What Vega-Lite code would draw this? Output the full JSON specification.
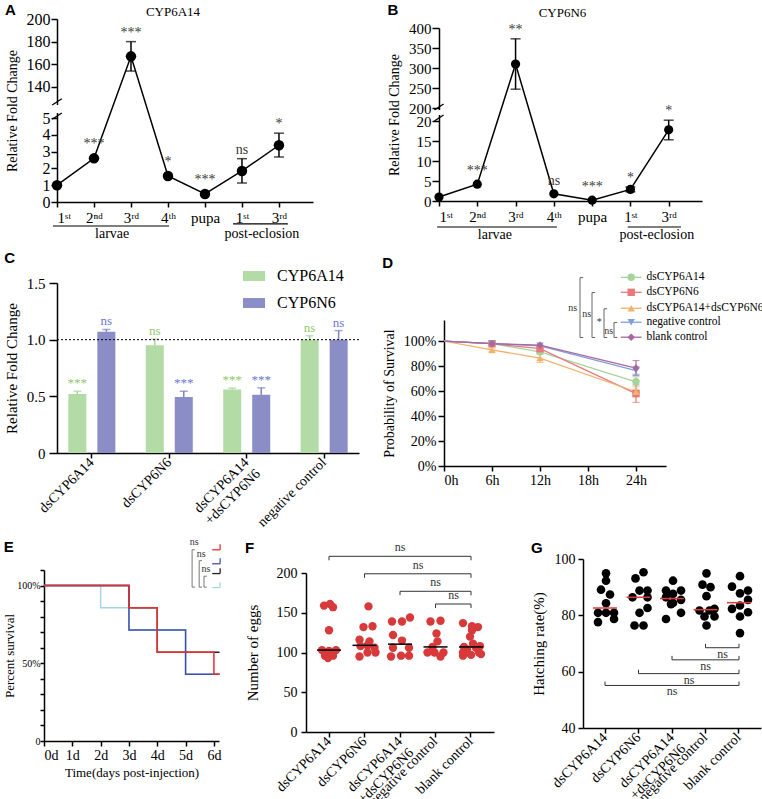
{
"$schema": "https://vega.github.io/schema/vega-lite/v6.json",
"background": "white",
"padding": {"left": 3, "top": 3, "right": 0, "bottom": 0},
"columns": 1,
"align": "none",
"spacing": 8,
"resolve": {"scale": {"color": "independent", "shape": "independent"}, "legend": {"color": "independent", "shape": "independent"}},
"config": {
 "view": {"stroke": null},
 "font": "Liberation Serif, Times New Roman, serif",
 "axis": {"grid": false, "labelOverlap": false, "domainColor": "black", "domainWidth": 1.5, "tickColor": "black", "tickWidth": 1.5, "tickSize": 5, "labelColor": "black", "titleColor": "black", "labelFont": "Liberation Serif, Times New Roman, serif", "titleFont": "Liberation Serif, Times New Roman, serif", "labelFontSize": 14, "titleFontSize": 14, "titleFontWeight": "normal", "labelPadding": 2, "titlePadding": 6},
 "legend": {"labelFont": "Liberation Serif, Times New Roman, serif", "labelColor": "black"},
 "title": {"font": "Liberation Sans, Arial, sans-serif", "fontWeight": "bold", "fontSize": 15, "color": "black", "anchor": "start", "offset": 0},
 "text": {"font": "Liberation Serif, Times New Roman, serif"}
},
"datasets": {
 "devA": [
  {"stage": "larva 1st", "i": 0, "v": 1.0, "sig": ""},
  {"stage": "larva 2nd", "i": 1, "v": 2.6, "sig": "***"},
  {"stage": "larva 3rd", "i": 2, "v": 167, "lo": 154, "hi": 180, "sig": "***"},
  {"stage": "larva 4th", "i": 3, "v": 1.55, "sig": "*"},
  {"stage": "pupa", "i": 4, "v": 0.48, "sig": "***"},
  {"stage": "adult 1st", "i": 5, "v": 1.85, "lo": 1.13, "hi": 2.58, "sig": "ns"},
  {"stage": "adult 3rd", "i": 6, "v": 3.38, "lo": 2.68, "hi": 4.1, "sig": "*"}
 ],
 "devB": [
  {"stage": "larva 1st", "i": 0, "v": 1.0, "sig": ""},
  {"stage": "larva 2nd", "i": 1, "v": 4.2, "sig": "***"},
  {"stage": "larva 3rd", "i": 2, "v": 310, "lo": 247, "hi": 373, "sig": "**"},
  {"stage": "larva 4th", "i": 3, "v": 1.8, "sig": "ns"},
  {"stage": "pupa", "i": 4, "v": 0.2, "sig": "***"},
  {"stage": "adult 1st", "i": 5, "v": 2.9, "lo": 2.3, "hi": 3.5, "sig": "*"},
  {"stage": "adult 3rd", "i": 6, "v": 17.8, "lo": 15.3, "hi": 20.2, "sig": "*"}
 ],
 "knock": [
  {"group": "dsCYP6A14", "gene": "CYP6A14", "value": 0.52, "upper": 0.545, "sig": "***"},
  {"group": "dsCYP6A14", "gene": "CYP6N6", "value": 1.07, "upper": 1.09, "sig": "ns"},
  {"group": "dsCYP6N6", "gene": "CYP6A14", "value": 0.95, "upper": 1.005, "sig": "ns"},
  {"group": "dsCYP6N6", "gene": "CYP6N6", "value": 0.495, "upper": 0.545, "sig": "***"},
  {"group": "dsCYP6A14+dsCYP6N6", "gene": "CYP6A14", "value": 0.56, "upper": 0.572, "sig": "***"},
  {"group": "dsCYP6A14+dsCYP6N6", "gene": "CYP6N6", "value": 0.515, "upper": 0.575, "sig": "***"},
  {"group": "negative control", "gene": "CYP6A14", "value": 1.0, "upper": 1.035, "sig": "ns"},
  {"group": "negative control", "gene": "CYP6N6", "value": 1.0, "upper": 1.08, "sig": "ns"}
 ],
 "surv": [
  {"g": "dsCYP6A14", "t": 0, "p": 1},
  {"g": "dsCYP6A14", "t": 6, "p": 0.98},
  {"g": "dsCYP6A14", "t": 12, "p": 0.915, "lo": 0.895, "hi": 0.935},
  {"g": "dsCYP6A14", "t": 24, "p": 0.675, "lo": 0.635, "hi": 0.715},
  {"g": "dsCYP6N6", "t": 0, "p": 1},
  {"g": "dsCYP6N6", "t": 6, "p": 0.98},
  {"g": "dsCYP6N6", "t": 12, "p": 0.94, "lo": 0.925, "hi": 0.955},
  {"g": "dsCYP6N6", "t": 24, "p": 0.58, "lo": 0.51, "hi": 0.65},
  {"g": "dsCYP6A14+dsCYP6N6", "t": 0, "p": 1},
  {"g": "dsCYP6A14+dsCYP6N6", "t": 6, "p": 0.93, "lo": 0.915, "hi": 0.945},
  {"g": "dsCYP6A14+dsCYP6N6", "t": 12, "p": 0.865, "lo": 0.83, "hi": 0.9},
  {"g": "dsCYP6A14+dsCYP6N6", "t": 24, "p": 0.595, "lo": 0.575, "hi": 0.615},
  {"g": "negative control", "t": 0, "p": 1},
  {"g": "negative control", "t": 6, "p": 0.98},
  {"g": "negative control", "t": 12, "p": 0.963},
  {"g": "negative control", "t": 24, "p": 0.765, "lo": 0.735, "hi": 0.795},
  {"g": "blank control", "t": 0, "p": 1},
  {"g": "blank control", "t": 6, "p": 0.98},
  {"g": "blank control", "t": 12, "p": 0.968},
  {"g": "blank control", "t": 24, "p": 0.785, "lo": 0.725, "hi": 0.845}
 ],
 "km": [
  {"g": "negative control", "d": 0, "s": 1},
  {"g": "negative control", "d": 2, "s": 0.857},
  {"g": "negative control", "d": 3, "s": 0.714},
  {"g": "negative control", "d": 5, "s": 0.429},
  {"g": "negative control", "d": 6.2, "s": 0.429},
  {"g": "dsCYP6A14+dsCYP6N6", "d": 0, "s": 1},
  {"g": "dsCYP6A14+dsCYP6N6", "d": 3, "s": 0.857},
  {"g": "dsCYP6A14+dsCYP6N6", "d": 4, "s": 0.571},
  {"g": "dsCYP6A14+dsCYP6N6", "d": 6.2, "s": 0.571},
  {"g": "dsCYP6N6", "d": 0, "s": 1},
  {"g": "dsCYP6N6", "d": 3, "s": 0.714},
  {"g": "dsCYP6N6", "d": 5, "s": 0.429},
  {"g": "dsCYP6N6", "d": 6.2, "s": 0.429},
  {"g": "dsCYP6A14", "d": 0, "s": 1},
  {"g": "dsCYP6A14", "d": 3, "s": 0.857},
  {"g": "dsCYP6A14", "d": 4, "s": 0.571},
  {"g": "dsCYP6A14", "d": 6, "s": 0.429},
  {"g": "dsCYP6A14", "d": 6.2, "s": 0.429}
 ],
 "eggs": [
  {"group": "dsCYP6A14", "value": 159, "jit": -5}, {"group": "dsCYP6A14", "value": 161, "jit": 1}, {"group": "dsCYP6A14", "value": 157, "jit": 4},
  {"group": "dsCYP6A14", "value": 128, "jit": 0}, {"group": "dsCYP6A14", "value": 103, "jit": -7}, {"group": "dsCYP6A14", "value": 102, "jit": 0},
  {"group": "dsCYP6A14", "value": 103, "jit": 7}, {"group": "dsCYP6A14", "value": 96, "jit": -4}, {"group": "dsCYP6A14", "value": 96, "jit": 4},
  {"group": "dsCYP6A14", "value": 93, "jit": -1},
  {"group": "dsCYP6N6", "value": 158, "jit": 4}, {"group": "dsCYP6N6", "value": 132, "jit": -1}, {"group": "dsCYP6N6", "value": 133, "jit": 8},
  {"group": "dsCYP6N6", "value": 116, "jit": -5}, {"group": "dsCYP6N6", "value": 114, "jit": 5}, {"group": "dsCYP6N6", "value": 108, "jit": -4},
  {"group": "dsCYP6N6", "value": 109, "jit": 3}, {"group": "dsCYP6N6", "value": 106, "jit": 10}, {"group": "dsCYP6N6", "value": 95, "jit": -5},
  {"group": "dsCYP6N6", "value": 100, "jit": 3}, {"group": "dsCYP6N6", "value": 100, "jit": 11},
  {"group": "dsCYP6A14+dsCYP6N6", "value": 139, "jit": -8}, {"group": "dsCYP6A14+dsCYP6N6", "value": 139, "jit": 2}, {"group": "dsCYP6A14+dsCYP6N6", "value": 144, "jit": 10},
  {"group": "dsCYP6A14+dsCYP6N6", "value": 122, "jit": -7}, {"group": "dsCYP6A14+dsCYP6N6", "value": 115, "jit": 2}, {"group": "dsCYP6A14+dsCYP6N6", "value": 106, "jit": -7},
  {"group": "dsCYP6A14+dsCYP6N6", "value": 106, "jit": 9}, {"group": "dsCYP6A14+dsCYP6N6", "value": 95, "jit": -9}, {"group": "dsCYP6A14+dsCYP6N6", "value": 96, "jit": 1},
  {"group": "dsCYP6A14+dsCYP6N6", "value": 96, "jit": 9},
  {"group": "negative control", "value": 139, "jit": -5}, {"group": "negative control", "value": 140, "jit": 5}, {"group": "negative control", "value": 124, "jit": 1},
  {"group": "negative control", "value": 114, "jit": 2}, {"group": "negative control", "value": 107, "jit": -3}, {"group": "negative control", "value": 100, "jit": -8},
  {"group": "negative control", "value": 100, "jit": -1}, {"group": "negative control", "value": 100, "jit": 8}, {"group": "negative control", "value": 95, "jit": 5},
  {"group": "blank control", "value": 137, "jit": -8}, {"group": "blank control", "value": 133, "jit": 1}, {"group": "blank control", "value": 132, "jit": 7},
  {"group": "blank control", "value": 128, "jit": 1}, {"group": "blank control", "value": 120, "jit": -1}, {"group": "blank control", "value": 111, "jit": 2},
  {"group": "blank control", "value": 108, "jit": 9}, {"group": "blank control", "value": 107, "jit": -7}, {"group": "blank control", "value": 106, "jit": 5},
  {"group": "blank control", "value": 104, "jit": -4}, {"group": "blank control", "value": 100, "jit": -8}, {"group": "blank control", "value": 100, "jit": 8},
  {"group": "blank control", "value": 96, "jit": -8}, {"group": "blank control", "value": 97, "jit": 0}, {"group": "blank control", "value": 98, "jit": 10}
 ],
 "hatch": [
  {"group": "dsCYP6A14", "value": 94.9, "jit": 0}, {"group": "dsCYP6A14", "value": 92.3, "jit": 0}, {"group": "dsCYP6A14", "value": 89.1, "jit": -5},
  {"group": "dsCYP6A14", "value": 87.4, "jit": 4}, {"group": "dsCYP6A14", "value": 84.3, "jit": 0}, {"group": "dsCYP6A14", "value": 80.9, "jit": -8},
  {"group": "dsCYP6A14", "value": 80.9, "jit": 8}, {"group": "dsCYP6A14", "value": 80.9, "jit": 0}, {"group": "dsCYP6A14", "value": 77.6, "jit": -8},
  {"group": "dsCYP6A14", "value": 78.7, "jit": 8},
  {"group": "dsCYP6N6", "value": 95.3, "jit": 4}, {"group": "dsCYP6N6", "value": 93.1, "jit": -4}, {"group": "dsCYP6N6", "value": 88.8, "jit": 0},
  {"group": "dsCYP6N6", "value": 88.8, "jit": 8}, {"group": "dsCYP6N6", "value": 86.4, "jit": -7}, {"group": "dsCYP6N6", "value": 86.4, "jit": 8},
  {"group": "dsCYP6N6", "value": 82.6, "jit": 8}, {"group": "dsCYP6N6", "value": 80.9, "jit": 0}, {"group": "dsCYP6N6", "value": 76.4, "jit": -5},
  {"group": "dsCYP6N6", "value": 76.4, "jit": 4},
  {"group": "dsCYP6A14+dsCYP6N6", "value": 92.3, "jit": 0}, {"group": "dsCYP6A14+dsCYP6N6", "value": 88.8, "jit": -7}, {"group": "dsCYP6A14+dsCYP6N6", "value": 88.8, "jit": 8},
  {"group": "dsCYP6A14+dsCYP6N6", "value": 87.6, "jit": 0}, {"group": "dsCYP6A14+dsCYP6N6", "value": 86.4, "jit": -7}, {"group": "dsCYP6A14+dsCYP6N6", "value": 85.5, "jit": 8},
  {"group": "dsCYP6A14+dsCYP6N6", "value": 84.4, "jit": 0}, {"group": "dsCYP6A14+dsCYP6N6", "value": 84.0, "jit": -2}, {"group": "dsCYP6A14+dsCYP6N6", "value": 80.9, "jit": 8},
  {"group": "dsCYP6A14+dsCYP6N6", "value": 78.7, "jit": -7},
  {"group": "negative control", "value": 94.9, "jit": 0}, {"group": "negative control", "value": 90.9, "jit": -4}, {"group": "negative control", "value": 90.0, "jit": 4},
  {"group": "negative control", "value": 86.8, "jit": 0}, {"group": "negative control", "value": 81.7, "jit": -7}, {"group": "negative control", "value": 82.3, "jit": 8},
  {"group": "negative control", "value": 81.7, "jit": 3}, {"group": "negative control", "value": 79.6, "jit": -2}, {"group": "negative control", "value": 79.6, "jit": 8},
  {"group": "negative control", "value": 76.4, "jit": 0},
  {"group": "blank control", "value": 93.9, "jit": 0}, {"group": "blank control", "value": 90.2, "jit": -8}, {"group": "blank control", "value": 88.8, "jit": 8},
  {"group": "blank control", "value": 87.8, "jit": 0}, {"group": "blank control", "value": 85.5, "jit": 8}, {"group": "blank control", "value": 83.5, "jit": 0},
  {"group": "blank control", "value": 82.3, "jit": -8}, {"group": "blank control", "value": 81.1, "jit": 8}, {"group": "blank control", "value": 79.6, "jit": 0},
  {"group": "blank control", "value": 73.7, "jit": 0}
 ]
},
"concat": [
 {"columns": 2, "align": "none", "spacing": 74, "resolve": {"scale": {"color": "independent", "shape": "independent"}, "legend": {"color": "independent", "shape": "independent"}}, "concat": [
  {"title": {"text": "A", "offset": -14, "dy": -2},
   "vconcat": [{
    "width": 256, "height": 183,
    "title": {"text": "CYP6A14", "font": "Liberation Serif, Times New Roman, serif", "fontWeight": "normal", "fontSize": 13, "anchor": "middle", "dx": -12, "offset": -8},
    "layer": [
     {"data": {"values": [{}]}, "mark": {"type": "rect", "color": "white", "clip": false}, "encoding": {"x": {"datum": -0.1, "type": "quantitative"}, "x2": {"datum": 0.1}, "y": {"datum": 5.3, "type": "quantitative"}, "y2": {"datum": 124}}},
     {"data": {"values": [{}]}, "mark": {"type": "rule", "color": "black", "strokeWidth": 1.3, "clip": false}, "encoding": {"x": {"datum": -0.13, "type": "quantitative"}, "x2": {"datum": 0.13}, "y": {"datum": 4.93, "type": "quantitative"}, "y2": {"datum": 5.3}}},
     {"data": {"values": [{}]}, "mark": {"type": "rule", "color": "black", "strokeWidth": 1.3, "clip": false}, "encoding": {"x": {"datum": -0.13, "type": "quantitative"}, "x2": {"datum": 0.13}, "y": {"datum": 124, "type": "quantitative"}, "y2": {"datum": 129.5}}},
     {"data": {"name": "devA"}, "mark": {"type": "line", "color": "black", "strokeWidth": 1.5},
      "encoding": {
       "x": {"field": "i", "type": "quantitative", "scale": {"domain": [0, 6.92], "nice": false, "zero": false}, "axis": {"values": [0, 1, 2, 3, 4, 5, 6], "tickCount": 30, "labelOverlap": false, "labelExpr": "['1ˢᵗ','2ⁿᵈ','3ʳᵈ','4ᵗʰ','pupa','1ˢᵗ','3ʳᵈ'][datum.value]", "title": null, "labelFontSize": 15, "labelPadding": 3}},
       "y": {"field": "v", "type": "quantitative", "scale": {"domain": [0, 5.3, 124, 200], "range": [183, 94, 86, 0], "nice": false, "zero": false}, "axis": {"values": [0, 1, 2, 3, 4, 5, 140, 160, 180, 200], "tickCount": 30, "labelOverlap": false, "title": "Relative Fold Change", "labelFontSize": 16, "tickSize": 6, "labelPadding": 1, "titlePadding": 7}}
      }},
     {"data": {"name": "devA"}, "transform": [{"filter": "isValid(datum.hi)"}], "mark": {"type": "rule", "color": "black", "strokeWidth": 1.5}, "encoding": {"x": {"field": "i", "type": "quantitative"}, "y": {"field": "lo", "type": "quantitative"}, "y2": {"field": "hi"}}},
     {"data": {"name": "devA"}, "transform": [{"filter": "isValid(datum.hi)"}], "mark": {"type": "tick", "orient": "horizontal", "color": "black", "size": 10, "thickness": 1.5}, "encoding": {"x": {"field": "i", "type": "quantitative"}, "y": {"field": "hi", "type": "quantitative"}}},
     {"data": {"name": "devA"}, "transform": [{"filter": "isValid(datum.hi)"}], "mark": {"type": "tick", "orient": "horizontal", "color": "black", "size": 10, "thickness": 1.5}, "encoding": {"x": {"field": "i", "type": "quantitative"}, "y": {"field": "lo", "type": "quantitative"}}},
     {"data": {"name": "devA"}, "mark": {"type": "point", "shape": "circle", "filled": true, "color": "black", "size": 110, "opacity": 1}, "encoding": {"x": {"field": "i", "type": "quantitative"}, "y": {"field": "v", "type": "quantitative"}}},
     {"data": {"name": "devA"}, "transform": [{"filter": "isValid(datum.hi)"}], "mark": {"type": "text", "baseline": "bottom", "dy": -2, "fontSize": 14, "color": "#3a3a3a"}, "encoding": {"x": {"field": "i", "type": "quantitative"}, "y": {"field": "hi", "type": "quantitative"}, "text": {"field": "sig"}}},
     {"data": {"name": "devA"}, "transform": [{"filter": "!isValid(datum.hi) && datum.sig != ''"}], "mark": {"type": "text", "baseline": "bottom", "dy": -7, "fontSize": 14, "color": "#3a3a3a"}, "encoding": {"x": {"field": "i", "type": "quantitative"}, "y": {"field": "v", "type": "quantitative"}, "text": {"field": "sig"}}},
     {"data": {"values": [{}]}, "mark": {"type": "rule", "color": "black", "strokeWidth": 1.2, "clip": false}, "encoding": {"x": {"datum": -0.11, "type": "quantitative"}, "x2": {"datum": 3.03}, "y": {"datum": -1.43, "type": "quantitative"}}},
     {"data": {"values": [{}]}, "mark": {"type": "rule", "color": "black", "strokeWidth": 1.2, "clip": false}, "encoding": {"x": {"datum": 4.76, "type": "quantitative"}, "x2": {"datum": 6.24}, "y": {"datum": -1.3, "type": "quantitative"}}},
     {"data": {"values": [{}]}, "mark": {"type": "text", "text": "larvae", "fontSize": 14, "baseline": "middle", "clip": false}, "encoding": {"x": {"datum": 1.49, "type": "quantitative"}, "y": {"datum": -1.9, "type": "quantitative"}}},
     {"data": {"values": [{}]}, "mark": {"type": "text", "text": "post-eclosion", "fontSize": 14, "baseline": "middle", "clip": false}, "encoding": {"x": {"datum": 5.54, "type": "quantitative"}, "y": {"datum": -1.9, "type": "quantitative"}}}
    ]
   }]
  },
  {"title": {"text": "B", "offset": -15, "dy": -4},
   "vconcat": [{
    "width": 263, "height": 182,
    "title": {"text": "CYP6N6", "font": "Liberation Serif, Times New Roman, serif", "fontWeight": "normal", "fontSize": 13, "anchor": "middle", "dx": -8, "offset": -1},
    "layer": [
     {"data": {"values": [{}]}, "mark": {"type": "rect", "color": "white", "clip": false}, "encoding": {"x": {"datum": -0.1, "type": "quantitative"}, "x2": {"datum": 0.1}, "y": {"datum": 21.5, "type": "quantitative"}, "y2": {"datum": 195}}},
     {"data": {"values": [{}]}, "mark": {"type": "rule", "color": "black", "strokeWidth": 1.3, "clip": false}, "encoding": {"x": {"datum": -0.12, "type": "quantitative"}, "x2": {"datum": 0.12}, "y": {"datum": 20, "type": "quantitative"}, "y2": {"datum": 21.5}}},
     {"data": {"values": [{}]}, "mark": {"type": "rule", "color": "black", "strokeWidth": 1.3, "clip": false}, "encoding": {"x": {"datum": -0.12, "type": "quantitative"}, "x2": {"datum": 0.12}, "y": {"datum": 195, "type": "quantitative"}, "y2": {"datum": 210}}},
     {"data": {"name": "devB"}, "mark": {"type": "line", "color": "black", "strokeWidth": 1.5},
      "encoding": {
       "x": {"field": "i", "type": "quantitative", "scale": {"domain": [0, 6.87], "nice": false, "zero": false}, "axis": {"values": [0, 1, 2, 3, 4, 5, 6], "tickCount": 30, "labelOverlap": false, "labelExpr": "['1ˢᵗ','2ⁿᵈ','3ʳᵈ','4ᵗʰ','pupa','1ˢᵗ','3ʳᵈ'][datum.value]", "title": null, "labelFontSize": 15, "labelPadding": 3}},
       "y": {"field": "v", "type": "quantitative", "scale": {"domain": [0, 21.5, 195, 400], "range": [182, 96, 91, 9], "nice": false, "zero": false}, "axis": {"values": [0, 5, 10, 15, 20, 200, 250, 300, 350, 400], "tickCount": 30, "labelOverlap": false, "title": "Relative Fold Change", "labelFontSize": 15, "tickSize": 7, "labelPadding": 1, "titlePadding": 7}}
      }},
     {"data": {"name": "devB"}, "transform": [{"filter": "isValid(datum.hi)"}], "mark": {"type": "rule", "color": "black", "strokeWidth": 1.5}, "encoding": {"x": {"field": "i", "type": "quantitative"}, "y": {"field": "lo", "type": "quantitative"}, "y2": {"field": "hi"}}},
     {"data": {"name": "devB"}, "transform": [{"filter": "isValid(datum.hi)"}], "mark": {"type": "tick", "orient": "horizontal", "color": "black", "size": 10, "thickness": 1.5}, "encoding": {"x": {"field": "i", "type": "quantitative"}, "y": {"field": "hi", "type": "quantitative"}}},
     {"data": {"name": "devB"}, "transform": [{"filter": "isValid(datum.hi)"}], "mark": {"type": "tick", "orient": "horizontal", "color": "black", "size": 10, "thickness": 1.5}, "encoding": {"x": {"field": "i", "type": "quantitative"}, "y": {"field": "lo", "type": "quantitative"}}},
     {"data": {"name": "devB"}, "mark": {"type": "point", "shape": "circle", "filled": true, "color": "black", "size": 85, "opacity": 1}, "encoding": {"x": {"field": "i", "type": "quantitative"}, "y": {"field": "v", "type": "quantitative"}}},
     {"data": {"name": "devB"}, "transform": [{"filter": "isValid(datum.hi)"}], "mark": {"type": "text", "baseline": "bottom", "dy": -2, "fontSize": 14, "color": "#3a3a3a"}, "encoding": {"x": {"field": "i", "type": "quantitative"}, "y": {"field": "hi", "type": "quantitative"}, "text": {"field": "sig"}}},
     {"data": {"name": "devB"}, "transform": [{"filter": "!isValid(datum.hi) && datum.sig != ''"}], "mark": {"type": "text", "baseline": "bottom", "dy": -6, "fontSize": 14, "color": "#3a3a3a"}, "encoding": {"x": {"field": "i", "type": "quantitative"}, "y": {"field": "v", "type": "quantitative"}, "text": {"field": "sig"}}},
     {"data": {"values": [{}]}, "mark": {"type": "rule", "color": "black", "strokeWidth": 1.2, "clip": false}, "encoding": {"x": {"datum": -0.05, "type": "quantitative"}, "x2": {"datum": 3.08}, "y": {"datum": -6.5, "type": "quantitative"}}},
     {"data": {"values": [{}]}, "mark": {"type": "rule", "color": "black", "strokeWidth": 1.2, "clip": false}, "encoding": {"x": {"datum": 4.93, "type": "quantitative"}, "x2": {"datum": 6.32}, "y": {"datum": -6.5, "type": "quantitative"}}},
     {"data": {"values": [{}]}, "mark": {"type": "text", "text": "larvae", "fontSize": 14, "baseline": "middle", "clip": false}, "encoding": {"x": {"datum": 1.46, "type": "quantitative"}, "y": {"datum": -8.6, "type": "quantitative"}}},
     {"data": {"values": [{}]}, "mark": {"type": "text", "text": "post-eclosion", "fontSize": 14, "baseline": "middle", "clip": false}, "encoding": {"x": {"datum": 5.69, "type": "quantitative"}, "y": {"datum": -8.6, "type": "quantitative"}}}
    ]
   }]
  }
 ]},
 {"columns": 2, "align": "none", "spacing": 22, "resolve": {"scale": {"color": "independent", "shape": "independent"}, "legend": {"color": "independent", "shape": "independent"}}, "concat": [
  {"title": {"text": "C", "offset": -1},
   "vconcat": [{
    "width": 302, "height": 170,
    "data": {"name": "knock"},
    "layer": [
     {"mark": {"type": "bar"},
      "encoding": {
       "x": {"field": "group", "type": "nominal", "sort": ["dsCYP6A14", "dsCYP6N6", "dsCYP6A14+dsCYP6N6", "negative control"], "scale": {"paddingInner": 0.1, "paddingOuter": 0}, "axis": {"title": null, "labelOverlap": false, "labelAngle": -45, "labelAlign": "right", "labelBaseline": "middle", "labelFontSize": 14, "labelPadding": 2, "labelExpr": "datum.label == 'dsCYP6A14+dsCYP6N6' ? ['dsCYP6A14', '+dsCYP6N6'] : datum.label"}},
       "xOffset": {"field": "gene", "type": "nominal", "sort": ["CYP6A14", "CYP6N6"], "scale": {"paddingInner": 0.379, "paddingOuter": 0.391}},
       "y": {"field": "value", "type": "quantitative", "scale": {"domain": [0, 1.5], "nice": false}, "axis": {"values": [0, 0.5, 1, 1.5], "tickCount": 30, "labelOverlap": false, "labelExpr": "datum.value == 0 ? '0' : format(datum.value, '.1f')", "title": "Relative Fold Change", "labelFontSize": 15, "titleFontSize": 15, "tickSize": 8, "labelPadding": 4, "titlePadding": 7}},
       "color": {"field": "gene", "type": "nominal", "sort": ["CYP6A14", "CYP6N6"], "scale": {"domain": ["CYP6A14", "CYP6N6"], "range": ["#b3dba6", "#8a8dc6"]},
        "legend": {"orient": "none", "legendX": 186, "legendY": -18, "title": null, "symbolType": "M-1,-0.45L1,-0.45L1,0.45L-1,0.45Z", "symbolSize": 484, "symbolStrokeWidth": 0, "labelFontSize": 16, "labelOffset": 12, "rowPadding": 8}}
      }},
     {"mark": {"type": "rule", "strokeWidth": 1.5},
      "encoding": {
       "x": {"field": "group", "type": "nominal", "sort": ["dsCYP6A14", "dsCYP6N6", "dsCYP6A14+dsCYP6N6", "negative control"]},
       "xOffset": {"field": "gene", "type": "nominal", "sort": ["CYP6A14", "CYP6N6"]},
       "y": {"field": "value", "type": "quantitative"}, "y2": {"field": "upper"},
       "color": {"condition": {"test": "datum.gene == 'CYP6A14'", "value": "#a6d498"}, "value": "#7e82c4"}
      }},
     {"mark": {"type": "tick", "orient": "horizontal", "size": 8, "thickness": 1.5},
      "encoding": {
       "x": {"field": "group", "type": "nominal", "sort": ["dsCYP6A14", "dsCYP6N6", "dsCYP6A14+dsCYP6N6", "negative control"]},
       "xOffset": {"field": "gene", "type": "nominal", "sort": ["CYP6A14", "CYP6N6"]},
       "y": {"field": "upper", "type": "quantitative"},
       "color": {"condition": {"test": "datum.gene == 'CYP6A14'", "value": "#a6d498"}, "value": "#7e82c4"}
      }},
     {"mark": {"type": "text", "baseline": "bottom", "dy": -1, "fontSize": 13},
      "encoding": {
       "x": {"field": "group", "type": "nominal", "sort": ["dsCYP6A14", "dsCYP6N6", "dsCYP6A14+dsCYP6N6", "negative control"]},
       "xOffset": {"field": "gene", "type": "nominal", "sort": ["CYP6A14", "CYP6N6"]},
       "y": {"field": "upper", "type": "quantitative"},
       "text": {"field": "sig"},
       "color": {"condition": {"test": "datum.gene == 'CYP6A14'", "value": "#8cc96c"}, "value": "#6e76cf"}
      }},
     {"data": {"values": [{}]}, "mark": {"type": "rule", "strokeDash": [2, 2], "color": "black", "strokeWidth": 1}, "encoding": {"y": {"datum": 1, "type": "quantitative"}}}
    ]
   }]
  },
  {"title": {"text": "D", "offset": 0},
   "vconcat": [{
    "width": 222, "height": 183,
    "layer": [
     {"data": {"name": "surv"}, "mark": {"type": "line", "strokeWidth": 1.3},
      "encoding": {
       "x": {"field": "t", "type": "quantitative", "scale": {"domain": [0, 27.75], "nice": false}, "axis": {"values": [0, 6, 12, 18, 24], "tickCount": 30, "labelOverlap": false, "labelExpr": "datum.value + 'h'", "title": null, "labelFontSize": 14}},
       "y": {"field": "p", "type": "quantitative", "scale": {"domain": [0, 1.17], "range": [183, 37], "nice": false}, "axis": {"values": [0, 0.2, 0.4, 0.6, 0.8, 1], "tickCount": 30, "labelOverlap": false, "format": ".0%", "title": "Probability of Survival", "labelFontSize": 14, "titleFontSize": 14, "tickSize": 6, "labelPadding": 2, "titlePadding": 7}},
       "color": {"field": "g", "type": "nominal", "scale": {"domain": ["dsCYP6A14", "dsCYP6N6", "dsCYP6A14+dsCYP6N6", "negative control", "blank control"], "range": ["#a5d49b", "#e8787a", "#f2b26c", "#7f9fe0", "#a9679d"]}, "legend": null}
      }},
     {"data": {"name": "surv"}, "transform": [{"filter": "isValid(datum.hi)"}], "mark": {"type": "rule", "strokeWidth": 1.2},
      "encoding": {"x": {"field": "t", "type": "quantitative"}, "y": {"field": "lo", "type": "quantitative"}, "y2": {"field": "hi"}, "color": {"field": "g", "type": "nominal", "legend": null}}},
     {"data": {"name": "surv"}, "transform": [{"filter": "isValid(datum.hi)"}], "mark": {"type": "tick", "orient": "horizontal", "size": 7, "thickness": 1.2},
      "encoding": {"x": {"field": "t", "type": "quantitative"}, "y": {"field": "hi", "type": "quantitative"}, "color": {"field": "g", "type": "nominal", "legend": null}}},
     {"data": {"name": "surv"}, "transform": [{"filter": "isValid(datum.hi)"}], "mark": {"type": "tick", "orient": "horizontal", "size": 7, "thickness": 1.2},
      "encoding": {"x": {"field": "t", "type": "quantitative"}, "y": {"field": "lo", "type": "quantitative"}, "color": {"field": "g", "type": "nominal", "legend": null}}},
     {"data": {"name": "surv"}, "transform": [{"filter": "datum.t > 0"}], "mark": {"type": "point", "filled": true, "size": 55, "opacity": 1},
      "encoding": {
       "x": {"field": "t", "type": "quantitative"}, "y": {"field": "p", "type": "quantitative"},
       "color": {"field": "g", "type": "nominal", "legend": null},
       "shape": {"field": "g", "type": "nominal", "scale": {"domain": ["dsCYP6A14", "dsCYP6N6", "dsCYP6A14+dsCYP6N6", "negative control", "blank control"], "range": ["circle", "square", "triangle-up", "triangle-down", "diamond"]}, "legend": null}
      }},
     {"data": {"values": [{}]}, "mark": {"type": "rule", "color": "#a5d49b", "strokeWidth": 1.3, "clip": false}, "encoding": {"x": {"datum": 22.1, "type": "quantitative"}, "x2": {"datum": 24.7}, "y": {"datum": 1.512, "type": "quantitative"}}},
     {"data": {"values": [{}]}, "mark": {"type": "point", "shape": "circle", "filled": true, "opacity": 1, "size": 55, "color": "#a5d49b", "clip": false}, "encoding": {"x": {"datum": 23.4, "type": "quantitative"}, "y": {"datum": 1.512, "type": "quantitative"}}},
     {"data": {"values": [{}]}, "mark": {"type": "text", "text": "dsCYP6A14", "align": "left", "baseline": "middle", "fontSize": 11.5, "clip": false}, "encoding": {"x": {"datum": 25.3, "type": "quantitative"}, "y": {"datum": 1.512, "type": "quantitative"}}},
     {"data": {"values": [{}]}, "mark": {"type": "rule", "color": "#e8787a", "strokeWidth": 1.3, "clip": false}, "encoding": {"x": {"datum": 22.1, "type": "quantitative"}, "x2": {"datum": 24.7}, "y": {"datum": 1.392, "type": "quantitative"}}},
     {"data": {"values": [{}]}, "mark": {"type": "point", "shape": "square", "filled": true, "opacity": 1, "size": 55, "color": "#e8787a", "clip": false}, "encoding": {"x": {"datum": 23.4, "type": "quantitative"}, "y": {"datum": 1.392, "type": "quantitative"}}},
     {"data": {"values": [{}]}, "mark": {"type": "text", "text": "dsCYP6N6", "align": "left", "baseline": "middle", "fontSize": 11.5, "clip": false}, "encoding": {"x": {"datum": 25.3, "type": "quantitative"}, "y": {"datum": 1.392, "type": "quantitative"}}},
     {"data": {"values": [{}]}, "mark": {"type": "rule", "color": "#f2b26c", "strokeWidth": 1.3, "clip": false}, "encoding": {"x": {"datum": 22.1, "type": "quantitative"}, "x2": {"datum": 24.7}, "y": {"datum": 1.264, "type": "quantitative"}}},
     {"data": {"values": [{}]}, "mark": {"type": "point", "shape": "triangle-up", "filled": true, "opacity": 1, "size": 55, "color": "#f2b26c", "clip": false}, "encoding": {"x": {"datum": 23.4, "type": "quantitative"}, "y": {"datum": 1.264, "type": "quantitative"}}},
     {"data": {"values": [{}]}, "mark": {"type": "text", "text": "dsCYP6A14+dsCYP6N6", "align": "left", "baseline": "middle", "fontSize": 11.5, "clip": false}, "encoding": {"x": {"datum": 25.3, "type": "quantitative"}, "y": {"datum": 1.264, "type": "quantitative"}}},
     {"data": {"values": [{}]}, "mark": {"type": "rule", "color": "#7f9fe0", "strokeWidth": 1.3, "clip": false}, "encoding": {"x": {"datum": 22.1, "type": "quantitative"}, "x2": {"datum": 24.7}, "y": {"datum": 1.152, "type": "quantitative"}}},
     {"data": {"values": [{}]}, "mark": {"type": "point", "shape": "triangle-down", "filled": true, "opacity": 1, "size": 55, "color": "#7f9fe0", "clip": false}, "encoding": {"x": {"datum": 23.4, "type": "quantitative"}, "y": {"datum": 1.152, "type": "quantitative"}}},
     {"data": {"values": [{}]}, "mark": {"type": "text", "text": "negative control", "align": "left", "baseline": "middle", "fontSize": 11.5, "clip": false}, "encoding": {"x": {"datum": 25.3, "type": "quantitative"}, "y": {"datum": 1.152, "type": "quantitative"}}},
     {"data": {"values": [{}]}, "mark": {"type": "rule", "color": "#a9679d", "strokeWidth": 1.3, "clip": false}, "encoding": {"x": {"datum": 22.1, "type": "quantitative"}, "x2": {"datum": 24.7}, "y": {"datum": 1.032, "type": "quantitative"}}},
     {"data": {"values": [{}]}, "mark": {"type": "point", "shape": "diamond", "filled": true, "opacity": 1, "size": 55, "color": "#a9679d", "clip": false}, "encoding": {"x": {"datum": 23.4, "type": "quantitative"}, "y": {"datum": 1.032, "type": "quantitative"}}},
     {"data": {"values": [{}]}, "mark": {"type": "text", "text": "blank control", "align": "left", "baseline": "middle", "fontSize": 11.5, "clip": false}, "encoding": {"x": {"datum": 25.3, "type": "quantitative"}, "y": {"datum": 1.032, "type": "quantitative"}}},
     {"data": {"values": [{}]}, "mark": {"type": "rule", "color": "#666", "strokeWidth": 1, "clip": false}, "encoding": {"x": {"datum": 17, "type": "quantitative"}, "y": {"datum": 1.03, "type": "quantitative"}, "y2": {"datum": 1.51}}},
     {"data": {"values": [{}]}, "mark": {"type": "rule", "color": "#666", "strokeWidth": 1, "clip": false}, "encoding": {"x": {"datum": 17, "type": "quantitative"}, "x2": {"datum": 17.4}, "y": {"datum": 1.51, "type": "quantitative"}}},
     {"data": {"values": [{}]}, "mark": {"type": "rule", "color": "#666", "strokeWidth": 1, "clip": false}, "encoding": {"x": {"datum": 17, "type": "quantitative"}, "x2": {"datum": 17.4}, "y": {"datum": 1.03, "type": "quantitative"}}},
     {"data": {"values": [{}]}, "mark": {"type": "rule", "color": "#666", "strokeWidth": 1, "clip": false}, "encoding": {"x": {"datum": 18.5, "type": "quantitative"}, "y": {"datum": 1.03, "type": "quantitative"}, "y2": {"datum": 1.39}}},
     {"data": {"values": [{}]}, "mark": {"type": "rule", "color": "#666", "strokeWidth": 1, "clip": false}, "encoding": {"x": {"datum": 18.5, "type": "quantitative"}, "x2": {"datum": 18.9}, "y": {"datum": 1.39, "type": "quantitative"}}},
     {"data": {"values": [{}]}, "mark": {"type": "rule", "color": "#666", "strokeWidth": 1, "clip": false}, "encoding": {"x": {"datum": 18.5, "type": "quantitative"}, "x2": {"datum": 18.9}, "y": {"datum": 1.03, "type": "quantitative"}}},
     {"data": {"values": [{}]}, "mark": {"type": "rule", "color": "#666", "strokeWidth": 1, "clip": false}, "encoding": {"x": {"datum": 20, "type": "quantitative"}, "y": {"datum": 1.03, "type": "quantitative"}, "y2": {"datum": 1.26}}},
     {"data": {"values": [{}]}, "mark": {"type": "rule", "color": "#666", "strokeWidth": 1, "clip": false}, "encoding": {"x": {"datum": 20, "type": "quantitative"}, "x2": {"datum": 20.4}, "y": {"datum": 1.26, "type": "quantitative"}}},
     {"data": {"values": [{}]}, "mark": {"type": "rule", "color": "#666", "strokeWidth": 1, "clip": false}, "encoding": {"x": {"datum": 20, "type": "quantitative"}, "x2": {"datum": 20.4}, "y": {"datum": 1.03, "type": "quantitative"}}},
     {"data": {"values": [{}]}, "mark": {"type": "rule", "color": "#666", "strokeWidth": 1, "clip": false}, "encoding": {"x": {"datum": 21.25, "type": "quantitative"}, "y": {"datum": 1.03, "type": "quantitative"}, "y2": {"datum": 1.15}}},
     {"data": {"values": [{}]}, "mark": {"type": "rule", "color": "#666", "strokeWidth": 1, "clip": false}, "encoding": {"x": {"datum": 21.25, "type": "quantitative"}, "x2": {"datum": 21.65}, "y": {"datum": 1.15, "type": "quantitative"}}},
     {"data": {"values": [{}]}, "mark": {"type": "rule", "color": "#666", "strokeWidth": 1, "clip": false}, "encoding": {"x": {"datum": 21.25, "type": "quantitative"}, "x2": {"datum": 21.65}, "y": {"datum": 1.03, "type": "quantitative"}}},
     {"data": {"values": [{}]}, "mark": {"type": "text", "text": "ns", "fontSize": 10, "color": "#333", "baseline": "middle", "clip": false}, "encoding": {"x": {"datum": 16.1, "type": "quantitative"}, "y": {"datum": 1.27, "type": "quantitative"}}},
     {"data": {"values": [{}]}, "mark": {"type": "text", "text": "ns", "fontSize": 10, "color": "#333", "baseline": "middle", "clip": false}, "encoding": {"x": {"datum": 17.85, "type": "quantitative"}, "y": {"datum": 1.22, "type": "quantitative"}}},
     {"data": {"values": [{}]}, "mark": {"type": "text", "text": "*", "fontSize": 10, "color": "#333", "baseline": "middle", "clip": false}, "encoding": {"x": {"datum": 19.4, "type": "quantitative"}, "y": {"datum": 1.15, "type": "quantitative"}}},
     {"data": {"values": [{}]}, "mark": {"type": "text", "text": "ns", "fontSize": 10, "color": "#333", "baseline": "middle", "clip": false}, "encoding": {"x": {"datum": 20.6, "type": "quantitative"}, "y": {"datum": 1.08, "type": "quantitative"}}}
    ]
   }]
  }
 ]},
 {"columns": 2, "align": "none", "spacing": 13, "concat": [
  {"title": {"text": "E", "offset": -18},
   "vconcat": [{
    "width": 162, "height": 182,
    "layer": [
     {"data": {"name": "km"}, "transform": [{"filter": "datum.g == 'negative control'"}], "mark": {"type": "line", "interpolate": "step-after", "color": "#a6d6e6", "strokeWidth": 1.5, "clip": false},
      "encoding": {
       "x": {"field": "d", "type": "quantitative", "scale": {"domain": [0, 6.18], "range": [-13, 162], "nice": false}, "axis": {"values": [0, 1, 2, 3, 4, 5, 6], "tickCount": 30, "labelOverlap": false, "labelExpr": "datum.value + 'd'", "title": "Time(days post-injection)", "labelFontSize": 14, "titleFontSize": 13, "titlePadding": 4}},
       "y": {"field": "s", "type": "quantitative", "scale": {"domain": [0, 1.1], "range": [182, 11], "nice": false}, "axis": {"values": [0, 0.1, 0.2, 0.3, 0.4, 0.5, 0.6, 0.7, 0.8, 0.9, 1, 1.1], "tickCount": 30, "labelOverlap": false, "offset": 13, "labelExpr": "datum.value == 0 ? '0' : (datum.value == 0.5 ? '50%' : (datum.value == 1 ? '100%' : ''))", "title": "Percent survival", "labelFontSize": 10, "titleFontSize": 13, "tickSize": 4, "labelPadding": 0, "titlePadding": 0}}
      }},
     {"data": {"name": "km"}, "transform": [{"filter": "datum.g == 'dsCYP6A14+dsCYP6N6'"}], "mark": {"type": "line", "interpolate": "step-after", "color": "#222222", "strokeWidth": 1.5, "clip": false}, "encoding": {"x": {"field": "d", "type": "quantitative"}, "y": {"field": "s", "type": "quantitative"}}},
     {"data": {"name": "km"}, "transform": [{"filter": "datum.g == 'dsCYP6N6'"}], "mark": {"type": "line", "interpolate": "step-after", "color": "#3d4fb2", "strokeWidth": 1.5, "clip": false}, "encoding": {"x": {"field": "d", "type": "quantitative"}, "y": {"field": "s", "type": "quantitative"}}},
     {"data": {"name": "km"}, "transform": [{"filter": "datum.g == 'dsCYP6A14'"}], "mark": {"type": "line", "interpolate": "step-after", "color": "#e53030", "strokeWidth": 1.5, "clip": false}, "encoding": {"x": {"field": "d", "type": "quantitative"}, "y": {"field": "s", "type": "quantitative"}}},
     {"data": {"values": [{}]}, "mark": {"type": "rule", "color": "#777", "strokeWidth": 1, "clip": false}, "encoding": {"x": {"datum": 5.23, "type": "quantitative"}, "y": {"datum": 0.99, "type": "quantitative"}, "y2": {"datum": 1.23}}},
     {"data": {"values": [{}]}, "mark": {"type": "rule", "color": "#777", "strokeWidth": 1, "clip": false}, "encoding": {"x": {"datum": 5.23, "type": "quantitative"}, "x2": {"datum": 5.33}, "y": {"datum": 1.23, "type": "quantitative"}}},
     {"data": {"values": [{}]}, "mark": {"type": "rule", "color": "#777", "strokeWidth": 1, "clip": false}, "encoding": {"x": {"datum": 5.23, "type": "quantitative"}, "x2": {"datum": 5.33}, "y": {"datum": 0.99, "type": "quantitative"}}},
     {"data": {"values": [{}]}, "mark": {"type": "rule", "color": "#777", "strokeWidth": 1, "clip": false}, "encoding": {"x": {"datum": 5.48, "type": "quantitative"}, "y": {"datum": 0.99, "type": "quantitative"}, "y2": {"datum": 1.16}}},
     {"data": {"values": [{}]}, "mark": {"type": "rule", "color": "#777", "strokeWidth": 1, "clip": false}, "encoding": {"x": {"datum": 5.48, "type": "quantitative"}, "x2": {"datum": 5.58}, "y": {"datum": 1.16, "type": "quantitative"}}},
     {"data": {"values": [{}]}, "mark": {"type": "rule", "color": "#777", "strokeWidth": 1, "clip": false}, "encoding": {"x": {"datum": 5.48, "type": "quantitative"}, "x2": {"datum": 5.58}, "y": {"datum": 0.99, "type": "quantitative"}}},
     {"data": {"values": [{}]}, "mark": {"type": "rule", "color": "#777", "strokeWidth": 1, "clip": false}, "encoding": {"x": {"datum": 5.65, "type": "quantitative"}, "y": {"datum": 0.99, "type": "quantitative"}, "y2": {"datum": 1.06}}},
     {"data": {"values": [{}]}, "mark": {"type": "rule", "color": "#777", "strokeWidth": 1, "clip": false}, "encoding": {"x": {"datum": 5.65, "type": "quantitative"}, "x2": {"datum": 5.75}, "y": {"datum": 1.06, "type": "quantitative"}}},
     {"data": {"values": [{}]}, "mark": {"type": "rule", "color": "#777", "strokeWidth": 1, "clip": false}, "encoding": {"x": {"datum": 5.65, "type": "quantitative"}, "x2": {"datum": 5.75}, "y": {"datum": 0.99, "type": "quantitative"}}},
     {"data": {"values": [{}]}, "mark": {"type": "text", "text": "ns", "fontSize": 10, "color": "#333", "baseline": "bottom", "clip": false}, "encoding": {"x": {"datum": 5.3, "type": "quantitative"}, "y": {"datum": 1.245, "type": "quantitative"}}},
     {"data": {"values": [{}]}, "mark": {"type": "text", "text": "ns", "fontSize": 10, "color": "#333", "baseline": "bottom", "clip": false}, "encoding": {"x": {"datum": 5.55, "type": "quantitative"}, "y": {"datum": 1.17, "type": "quantitative"}}},
     {"data": {"values": [{}]}, "mark": {"type": "text", "text": "ns", "fontSize": 10, "color": "#333", "baseline": "bottom", "clip": false}, "encoding": {"x": {"datum": 5.72, "type": "quantitative"}, "y": {"datum": 1.075, "type": "quantitative"}}},
     {"data": {"values": [{}]}, "mark": {"type": "rule", "color": "#e53030", "strokeWidth": 1.3, "clip": false}, "encoding": {"x": {"datum": 5.94, "type": "quantitative"}, "x2": {"datum": 6.22}, "y": {"datum": 1.23, "type": "quantitative"}}},
     {"data": {"values": [{}]}, "mark": {"type": "rule", "color": "#e53030", "strokeWidth": 1.3, "clip": false}, "encoding": {"x": {"datum": 6.22, "type": "quantitative"}, "y": {"datum": 1.23, "type": "quantitative"}, "y2": {"datum": 1.265}}},
     {"data": {"values": [{}]}, "mark": {"type": "rule", "color": "#3d4fb2", "strokeWidth": 1.3, "clip": false}, "encoding": {"x": {"datum": 5.94, "type": "quantitative"}, "x2": {"datum": 6.22}, "y": {"datum": 1.14, "type": "quantitative"}}},
     {"data": {"values": [{}]}, "mark": {"type": "rule", "color": "#3d4fb2", "strokeWidth": 1.3, "clip": false}, "encoding": {"x": {"datum": 6.22, "type": "quantitative"}, "y": {"datum": 1.14, "type": "quantitative"}, "y2": {"datum": 1.175}}},
     {"data": {"values": [{}]}, "mark": {"type": "rule", "color": "#222222", "strokeWidth": 1.3, "clip": false}, "encoding": {"x": {"datum": 5.94, "type": "quantitative"}, "x2": {"datum": 6.22}, "y": {"datum": 1.077, "type": "quantitative"}}},
     {"data": {"values": [{}]}, "mark": {"type": "rule", "color": "#222222", "strokeWidth": 1.3, "clip": false}, "encoding": {"x": {"datum": 6.22, "type": "quantitative"}, "y": {"datum": 1.077, "type": "quantitative"}, "y2": {"datum": 1.112}}},
     {"data": {"values": [{}]}, "mark": {"type": "rule", "color": "#a6d6e6", "strokeWidth": 1.3, "clip": false}, "encoding": {"x": {"datum": 5.94, "type": "quantitative"}, "x2": {"datum": 6.22}, "y": {"datum": 0.987, "type": "quantitative"}}},
     {"data": {"values": [{}]}, "mark": {"type": "rule", "color": "#a6d6e6", "strokeWidth": 1.3, "clip": false}, "encoding": {"x": {"datum": 6.22, "type": "quantitative"}, "y": {"datum": 0.987, "type": "quantitative"}, "y2": {"datum": 1.022}}}
    ]
   }]
  },
  {"columns": 2, "align": "none", "spacing": 37, "concat": [
   {"title": {"text": "F", "offset": -11, "dy": 4},
    "vconcat": [{
     "width": 188, "height": 173,
     "layer": [
      {"data": {"name": "eggs"}, "mark": {"type": "point", "shape": "circle", "filled": true, "color": "#d8393b", "size": 70, "opacity": 1},
       "encoding": {
        "x": {"field": "group", "type": "nominal", "sort": ["dsCYP6A14", "dsCYP6N6", "dsCYP6A14+dsCYP6N6", "negative control", "blank control"], "scale": {"paddingInner": 0, "paddingOuter": 0.148}, "axis": {"title": null, "labelOverlap": false, "labelAngle": -45, "labelAlign": "right", "labelBaseline": "middle", "labelFontSize": 14, "labelPadding": 2, "labelExpr": "datum.label == 'dsCYP6A14+dsCYP6N6' ? ['dsCYP6A14', '+dsCYP6N6'] : datum.label"}},
        "xOffset": {"field": "jit", "type": "quantitative", "scale": {"domain": [-10, 10], "range": [7.75, 27.75]}},
        "y": {"field": "value", "type": "quantitative", "scale": {"domain": [0, 200], "range": [173, 14], "nice": false}, "axis": {"values": [0, 50, 100, 150, 200], "tickCount": 30, "labelOverlap": false, "title": "Number of eggs", "labelFontSize": 14, "titleFontSize": 15, "labelPadding": 4, "titlePadding": 16}}
       }},
      {"data": {"name": "eggs"}, "mark": {"type": "tick", "orient": "horizontal", "color": "black", "size": 24, "thickness": 1.5},
       "encoding": {
        "x": {"field": "group", "type": "nominal", "sort": ["dsCYP6A14", "dsCYP6N6", "dsCYP6A14+dsCYP6N6", "negative control", "blank control"]},
        "y": {"aggregate": "median", "field": "value", "type": "quantitative"}
       }},
      {"data": {"values": [{}]}, "mark": {"type": "rule", "color": "#333", "strokeWidth": 1, "clip": false}, "encoding": {"x": {"datum": "dsCYP6A14", "type": "nominal"}, "x2": {"datum": "blank control"}, "y": {"datum": 221, "type": "quantitative"}}},
      {"data": {"values": [{}]}, "mark": {"type": "rule", "color": "#333", "strokeWidth": 1, "clip": false}, "encoding": {"x": {"datum": "dsCYP6N6", "type": "nominal"}, "x2": {"datum": "blank control"}, "y": {"datum": 199, "type": "quantitative"}}},
      {"data": {"values": [{}]}, "mark": {"type": "rule", "color": "#333", "strokeWidth": 1, "clip": false}, "encoding": {"x": {"datum": "dsCYP6A14+dsCYP6N6", "type": "nominal"}, "x2": {"datum": "blank control"}, "y": {"datum": 177, "type": "quantitative"}}},
      {"data": {"values": [{}]}, "mark": {"type": "rule", "color": "#333", "strokeWidth": 1, "clip": false}, "encoding": {"x": {"datum": "negative control", "type": "nominal"}, "x2": {"datum": "blank control"}, "y": {"datum": 161, "type": "quantitative"}}},
      {"data": {"values": [{}]}, "mark": {"type": "rule", "color": "#333", "strokeWidth": 1, "clip": false}, "encoding": {"x": {"datum": "dsCYP6A14", "type": "nominal"}, "y": {"datum": 221, "type": "quantitative"}, "y2": {"datum": 216}}},
      {"data": {"values": [{}]}, "mark": {"type": "rule", "color": "#333", "strokeWidth": 1, "clip": false}, "encoding": {"x": {"datum": "dsCYP6N6", "type": "nominal"}, "y": {"datum": 199, "type": "quantitative"}, "y2": {"datum": 194}}},
      {"data": {"values": [{}]}, "mark": {"type": "rule", "color": "#333", "strokeWidth": 1, "clip": false}, "encoding": {"x": {"datum": "dsCYP6A14+dsCYP6N6", "type": "nominal"}, "y": {"datum": 177, "type": "quantitative"}, "y2": {"datum": 172}}},
      {"data": {"values": [{}]}, "mark": {"type": "rule", "color": "#333", "strokeWidth": 1, "clip": false}, "encoding": {"x": {"datum": "negative control", "type": "nominal"}, "y": {"datum": 161, "type": "quantitative"}, "y2": {"datum": 156}}},
      {"data": {"values": [{}]}, "mark": {"type": "rule", "color": "#333", "strokeWidth": 1, "clip": false}, "encoding": {"x": {"datum": "blank control", "type": "nominal"}, "y": {"datum": 221, "type": "quantitative"}, "y2": {"datum": 216}}},
      {"data": {"values": [{}]}, "mark": {"type": "rule", "color": "#333", "strokeWidth": 1, "clip": false}, "encoding": {"x": {"datum": "blank control", "type": "nominal"}, "y": {"datum": 199, "type": "quantitative"}, "y2": {"datum": 194}}},
      {"data": {"values": [{}]}, "mark": {"type": "rule", "color": "#333", "strokeWidth": 1, "clip": false}, "encoding": {"x": {"datum": "blank control", "type": "nominal"}, "y": {"datum": 177, "type": "quantitative"}, "y2": {"datum": 172}}},
      {"data": {"values": [{}]}, "mark": {"type": "rule", "color": "#333", "strokeWidth": 1, "clip": false}, "encoding": {"x": {"datum": "blank control", "type": "nominal"}, "y": {"datum": 161, "type": "quantitative"}, "y2": {"datum": 156}}},
      {"data": {"values": [{}]}, "mark": {"type": "text", "text": "ns", "fontSize": 12, "color": "#333", "baseline": "bottom", "dy": -2, "clip": false}, "encoding": {"x": {"datum": "dsCYP6A14+dsCYP6N6", "type": "nominal"}, "y": {"datum": 221, "type": "quantitative"}}},
      {"data": {"values": [{}]}, "mark": {"type": "text", "text": "ns", "fontSize": 12, "color": "#333", "baseline": "bottom", "dy": -2, "dx": 18, "clip": false}, "encoding": {"x": {"datum": "dsCYP6A14+dsCYP6N6", "type": "nominal"}, "y": {"datum": 199, "type": "quantitative"}}},
      {"data": {"values": [{}]}, "mark": {"type": "text", "text": "ns", "fontSize": 12, "color": "#333", "baseline": "bottom", "dy": -2, "clip": false}, "encoding": {"x": {"datum": "negative control", "type": "nominal"}, "y": {"datum": 177, "type": "quantitative"}}},
      {"data": {"values": [{}]}, "mark": {"type": "text", "text": "ns", "fontSize": 12, "color": "#333", "baseline": "bottom", "dy": -2, "dx": 18, "clip": false}, "encoding": {"x": {"datum": "negative control", "type": "nominal"}, "y": {"datum": 161, "type": "quantitative"}}}
     ]
    }]
   },
   {"title": {"text": "G", "offset": 4, "dy": 8},
    "vconcat": [{
     "width": 178, "height": 169,
     "layer": [
      {"data": {"name": "hatch"}, "mark": {"type": "point", "shape": "circle", "filled": true, "color": "black", "size": 75, "opacity": 1},
       "encoding": {
        "x": {"field": "group", "type": "nominal", "sort": ["dsCYP6A14", "dsCYP6N6", "dsCYP6A14+dsCYP6N6", "negative control", "blank control"], "scale": {"paddingInner": 0, "paddingOuter": 0.157}, "axis": {"title": null, "labelOverlap": false, "labelAngle": -45, "labelAlign": "right", "labelBaseline": "middle", "labelFontSize": 14, "labelPadding": 2, "labelExpr": "datum.label == 'dsCYP6A14+dsCYP6N6' ? ['dsCYP6A14', '+dsCYP6N6'] : datum.label"}},
        "xOffset": {"field": "jit", "type": "quantitative", "scale": {"domain": [-10, 10], "range": [6.75, 26.75]}},
        "y": {"field": "value", "type": "quantitative", "scale": {"domain": [40, 100], "nice": false, "zero": false}, "axis": {"values": [40, 60, 80, 100], "tickCount": 30, "labelOverlap": false, "title": "Hatching rate(%)", "labelFontSize": 14, "titleFontSize": 15, "labelPadding": 3, "titlePadding": 8}}
       }},
      {"data": {"name": "hatch"}, "mark": {"type": "tick", "orient": "horizontal", "color": "#e0393b", "size": 24, "thickness": 1.5},
       "encoding": {
        "x": {"field": "group", "type": "nominal", "sort": ["dsCYP6A14", "dsCYP6N6", "dsCYP6A14+dsCYP6N6", "negative control", "blank control"]},
        "y": {"aggregate": "median", "field": "value", "type": "quantitative"}
       }},
      {"data": {"values": [{}]}, "mark": {"type": "rule", "color": "#333", "strokeWidth": 1, "clip": false}, "encoding": {"x": {"datum": "negative control", "type": "nominal"}, "x2": {"datum": "blank control"}, "y": {"datum": 68.5, "type": "quantitative"}}},
      {"data": {"values": [{}]}, "mark": {"type": "rule", "color": "#333", "strokeWidth": 1, "clip": false}, "encoding": {"x": {"datum": "dsCYP6A14+dsCYP6N6", "type": "nominal"}, "x2": {"datum": "blank control"}, "y": {"datum": 64.2, "type": "quantitative"}}},
      {"data": {"values": [{}]}, "mark": {"type": "rule", "color": "#333", "strokeWidth": 1, "clip": false}, "encoding": {"x": {"datum": "dsCYP6N6", "type": "nominal"}, "x2": {"datum": "blank control"}, "y": {"datum": 59.3, "type": "quantitative"}}},
      {"data": {"values": [{}]}, "mark": {"type": "rule", "color": "#333", "strokeWidth": 1, "clip": false}, "encoding": {"x": {"datum": "dsCYP6A14", "type": "nominal"}, "x2": {"datum": "blank control"}, "y": {"datum": 55.1, "type": "quantitative"}}},
      {"data": {"values": [{}]}, "mark": {"type": "rule", "color": "#333", "strokeWidth": 1, "clip": false}, "encoding": {"x": {"datum": "negative control", "type": "nominal"}, "y": {"datum": 68.5, "type": "quantitative"}, "y2": {"datum": 69.9}}},
      {"data": {"values": [{}]}, "mark": {"type": "rule", "color": "#333", "strokeWidth": 1, "clip": false}, "encoding": {"x": {"datum": "dsCYP6A14+dsCYP6N6", "type": "nominal"}, "y": {"datum": 64.2, "type": "quantitative"}, "y2": {"datum": 65.6}}},
      {"data": {"values": [{}]}, "mark": {"type": "rule", "color": "#333", "strokeWidth": 1, "clip": false}, "encoding": {"x": {"datum": "dsCYP6N6", "type": "nominal"}, "y": {"datum": 59.3, "type": "quantitative"}, "y2": {"datum": 60.7}}},
      {"data": {"values": [{}]}, "mark": {"type": "rule", "color": "#333", "strokeWidth": 1, "clip": false}, "encoding": {"x": {"datum": "dsCYP6A14", "type": "nominal"}, "y": {"datum": 55.1, "type": "quantitative"}, "y2": {"datum": 56.5}}},
      {"data": {"values": [{}]}, "mark": {"type": "rule", "color": "#333", "strokeWidth": 1, "clip": false}, "encoding": {"x": {"datum": "blank control", "type": "nominal"}, "y": {"datum": 68.5, "type": "quantitative"}, "y2": {"datum": 69.9}}},
      {"data": {"values": [{}]}, "mark": {"type": "rule", "color": "#333", "strokeWidth": 1, "clip": false}, "encoding": {"x": {"datum": "blank control", "type": "nominal"}, "y": {"datum": 64.2, "type": "quantitative"}, "y2": {"datum": 65.6}}},
      {"data": {"values": [{}]}, "mark": {"type": "rule", "color": "#333", "strokeWidth": 1, "clip": false}, "encoding": {"x": {"datum": "blank control", "type": "nominal"}, "y": {"datum": 59.3, "type": "quantitative"}, "y2": {"datum": 60.7}}},
      {"data": {"values": [{}]}, "mark": {"type": "rule", "color": "#333", "strokeWidth": 1, "clip": false}, "encoding": {"x": {"datum": "blank control", "type": "nominal"}, "y": {"datum": 55.1, "type": "quantitative"}, "y2": {"datum": 56.5}}},
      {"data": {"values": [{}]}, "mark": {"type": "text", "text": "ns", "fontSize": 12, "color": "#333", "baseline": "top", "dy": 1, "dx": 17, "clip": false}, "encoding": {"x": {"datum": "negative control", "type": "nominal"}, "y": {"datum": 68.5, "type": "quantitative"}}},
      {"data": {"values": [{}]}, "mark": {"type": "text", "text": "ns", "fontSize": 12, "color": "#333", "baseline": "top", "dy": 1, "clip": false}, "encoding": {"x": {"datum": "negative control", "type": "nominal"}, "y": {"datum": 64.2, "type": "quantitative"}}},
      {"data": {"values": [{}]}, "mark": {"type": "text", "text": "ns", "fontSize": 12, "color": "#333", "baseline": "top", "dy": 1, "dx": 17, "clip": false}, "encoding": {"x": {"datum": "dsCYP6A14+dsCYP6N6", "type": "nominal"}, "y": {"datum": 59.3, "type": "quantitative"}}},
      {"data": {"values": [{}]}, "mark": {"type": "text", "text": "ns", "fontSize": 12, "color": "#333", "baseline": "top", "dy": 1, "clip": false}, "encoding": {"x": {"datum": "dsCYP6A14+dsCYP6N6", "type": "nominal"}, "y": {"datum": 55.1, "type": "quantitative"}}}
    ]
    }]
   }
  ]}
 ]}
]
}
